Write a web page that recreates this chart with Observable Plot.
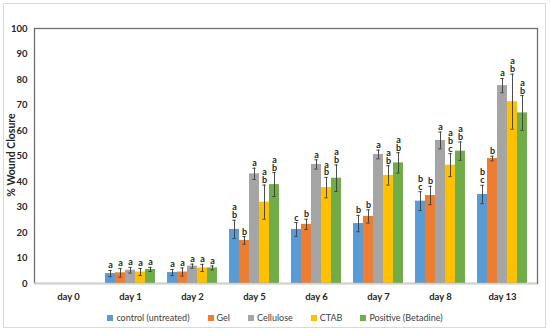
<!DOCTYPE html>
<html><head><meta charset="utf-8">
<script src="https://cdn.jsdelivr.net/npm/d3@7"></script>
<script src="https://cdn.jsdelivr.net/npm/@observablehq/plot@0.6"></script>
<style>
body{margin:0;background:#fff;font-family:Lato,"Open Sans",sans-serif}
#wrap{position:relative;width:550px;height:331px;overflow:hidden}
#border{position:absolute;left:3px;top:3px;width:543px;height:325px;border:1px solid #d9d9d9;box-sizing:border-box}
#chart,#over{position:absolute;left:0;top:0}
#over svg{background:transparent}
#ytitle{position:absolute;left:11px;top:155px;transform:translate(-50%,-50%) rotate(-90deg);font-weight:bold;font-size:10.5px;color:#262626;white-space:nowrap}
#legend{position:absolute;left:0;top:312px;width:550px;display:flex;justify-content:center;gap:18px;font-size:9px;color:#404040;line-height:11px}
#legend span.sw{display:inline-block;width:6px;height:6px;margin-right:3px;vertical-align:0px}
</style></head>
<body>
<div id="wrap">
<div id="border"></div>
<div id="chart"></div>
<div id="over"></div>
<div id="ytitle">% Wound Closure</div>
<div id="legend"></div>
</div>
<script>
const days = ["day 0","day 1","day 2","day 5","day 6","day 7","day 8","day 13"];
const series = ["control (untreated)","Gel","Cellulose","CTAB","Positive (Betadine)"];
const colors = ["#5B9BD5","#ED7D31","#A5A5A5","#FFC000","#70AD47"];
const yTicks = [0,10,20,30,40,50,60,70,80,90,100];

const control = [0,3.9,4.3,21.2,21.2,23.5,32.3,34.9];
const controlErr = [0,1.2,1.2,3.6,2.7,3.2,3.7,3.6];
const controlLetters = ["","a","a","ab","c","b","bc","bc"];

const gel = [0,4.2,4.5,16.9,23.2,26.3,34.5,49.0];
const gelErr = [0,1.7,1.6,1.5,2.0,2.6,3.6,0.9];
const gelLetters = ["","a","a","b","b","b","b","b"];

const cellulose = [0,5.2,6.8,43.0,46.7,50.6,56.1,77.6];
const celluloseErr = [0,1.1,0.8,2.2,1.8,1.7,3.3,2.8];
const celluloseLetters = ["","a","a","a","a","a","a","a"];

const ctab = [0,4.5,6.1,31.9,37.6,42.4,46.4,71.3];
const ctabErr = [0,1.4,1.4,6.7,4.0,3.8,4.5,10.8];
const ctabLetters = ["","a","a","ab","ab","ab","abc","ab"];

const positive = [0,5.5,6.1,38.8,41.3,47.3,51.9,66.9];
const positiveErr = [0,0.8,0.8,4.7,5.2,4.0,3.6,6.8];
const positiveLetters = ["","a","a","ab","ab","ab","ab","ab"];

const values = [control,gel,cellulose,ctab,positive];
const errs = [controlErr,gelErr,celluloseErr,ctabErr,positiveErr];
const letters = [controlLetters,gelLetters,celluloseLetters,ctabLetters,positiveLetters];

const data = [];
days.forEach((d,i)=>series.forEach((s,j)=>{
  data.push({day:d, series:s, value:values[j][i], err:errs[j][i], label:letters[j][i].split("").join("\n")});
}));
const nz = data.filter(d=>d.value>0);

const W=550,H=305,ML=34,MR=13,MT=28,MB=22;

const chart = Plot.plot({
  width:W,height:H,marginLeft:ML,marginRight:MR,marginTop:MT,marginBottom:MB,
  style:{fontFamily:"Lato, 'Open Sans', sans-serif",fontSize:"9.5px",fontWeight:"bold",color:"#262626",background:"transparent"},
  fx:{domain:days,paddingInner:0.16,paddingOuter:0.08,label:null,axis:"bottom",tickSize:0,tickPadding:10},
  x:{domain:series,padding:0,axis:null},
  y:{domain:[0,100],axis:null},
  color:{domain:series,range:colors},
  marks:[
    Plot.barY(data,{fx:"day",x:"series",y:"value",fill:"series"}),
    Plot.ruleX(nz,{fx:"day",x:"series",y1:d=>d.value-d.err,y2:d=>d.value+d.err,stroke:"#3a3a3a",strokeWidth:0.9}),
    Plot.tickY(nz,{fx:"day",x:"series",y:d=>d.value+d.err,stroke:"#3a3a3a",strokeWidth:0.9,insetLeft:3.3,insetRight:3.3}),
    Plot.tickY(nz,{fx:"day",x:"series",y:d=>d.value-d.err,stroke:"#3a3a3a",strokeWidth:0.9,insetLeft:3.3,insetRight:3.3}),
    Plot.text(nz,{fx:"day",x:"series",y:d=>d.value+d.err,text:"label",lineAnchor:"bottom",lineHeight:0.88,dy:-2,fill:"#262626",fontSize:9,fontWeight:"bold"})
  ]
});
document.getElementById("chart").appendChild(chart);

const over = Plot.plot({
  width:W,height:H,marginLeft:ML,marginRight:MR,marginTop:MT,marginBottom:MB,
  style:{fontFamily:"Lato, 'Open Sans', sans-serif",fontSize:"9.5px",fontWeight:"bold",color:"#262626",background:"transparent"},
  y:{domain:[0,100],axis:null},
  marks:[
    Plot.frame({stroke:"#6f6f6f",strokeWidth:1.3}),
    Plot.ruleY([0],{stroke:"#d0d0d0",strokeWidth:1.3}),
    Plot.axisY(yTicks,{tickSize:0,tickPadding:7,label:null,fontWeight:"bold"})
  ]
});
document.getElementById("over").appendChild(over);

const lg = document.getElementById("legend");
series.forEach((s,j)=>{
  const it=document.createElement("div");
  it.innerHTML=`<span class="sw" style="background:${colors[j]}"></span>${s}`;
  lg.appendChild(it);
});
</script>
</body></html>
